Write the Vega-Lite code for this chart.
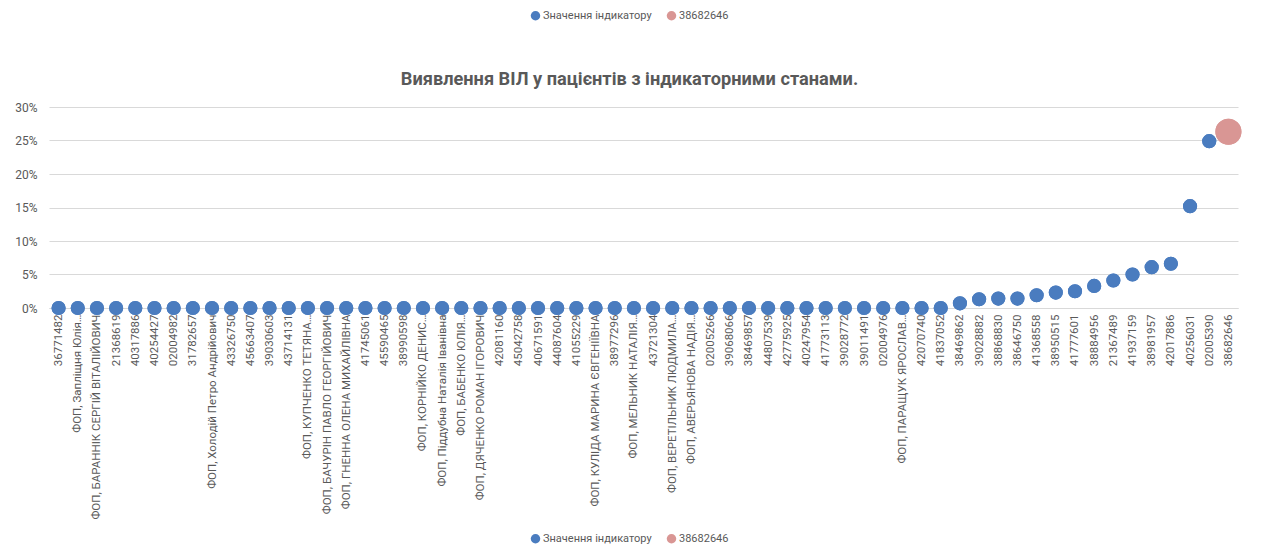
{
  "$schema": "https://vega.github.io/schema/vega-lite/v6.json",
  "width": 1189,
  "height": 201,
  "autosize": "none",
  "padding": {"left": 49, "top": 107, "right": 31, "bottom": 243},
  "background": "white",
  "title": {
    "text": "Виявлення ВІЛ у пацієнтів з індикаторними станами.",
    "font": "Roboto",
    "fontSize": 18.2,
    "fontWeight": "bold",
    "color": "#595959",
    "anchor": "middle",
    "dx": -14,
    "dy": 93,
    "offset": 14
  },
  "data": {
    "values": [
      {"name": "36771482", "value": 0, "series": "Значення індикатору"},
      {"name": "ФОП, Запліщня Юлія…", "value": 0, "series": "Значення індикатору"},
      {"name": "ФОП, БАРАННІК СЕРГІЙ ВІТАЛІЙОВИЧ", "value": 0, "series": "Значення індикатору"},
      {"name": "21368619", "value": 0, "series": "Значення індикатору"},
      {"name": "40317886", "value": 0, "series": "Значення індикатору"},
      {"name": "40254427", "value": 0, "series": "Значення індикатору"},
      {"name": "02004982", "value": 0, "series": "Значення індикатору"},
      {"name": "31782657", "value": 0, "series": "Значення індикатору"},
      {"name": "ФОП, Холодій Петро Андрійович", "value": 0, "series": "Значення індикатору"},
      {"name": "43326750", "value": 0, "series": "Значення індикатору"},
      {"name": "45663407", "value": 0, "series": "Значення індикатору"},
      {"name": "39030603", "value": 0, "series": "Значення індикатору"},
      {"name": "43714131", "value": 0, "series": "Значення індикатору"},
      {"name": "ФОП, КУПЧЕНКО ТЕТЯНА…", "value": 0, "series": "Значення індикатору"},
      {"name": "ФОП, БАЧУРІН ПАВЛО ГЕОРГІЙОВИЧ", "value": 0, "series": "Значення індикатору"},
      {"name": "ФОП, ГНЕННА ОЛЕНА МИХАЙЛІВНА", "value": 0, "series": "Значення індикатору"},
      {"name": "41745061", "value": 0, "series": "Значення індикатору"},
      {"name": "45590465", "value": 0, "series": "Значення індикатору"},
      {"name": "38990598", "value": 0, "series": "Значення індикатору"},
      {"name": "ФОП, КОРНІЙКО ДЕНИС…", "value": 0, "series": "Значення індикатору"},
      {"name": "ФОП, Піддубна Наталія Іванівна", "value": 0, "series": "Значення індикатору"},
      {"name": "ФОП, БАБЕНКО ЮЛІЯ…", "value": 0, "series": "Значення індикатору"},
      {"name": "ФОП, ДЯЧЕНКО РОМАН ІГОРОВИЧ", "value": 0, "series": "Значення індикатору"},
      {"name": "42081160", "value": 0, "series": "Значення індикатору"},
      {"name": "45042758", "value": 0, "series": "Значення індикатору"},
      {"name": "40671591", "value": 0, "series": "Значення індикатору"},
      {"name": "44087604", "value": 0, "series": "Значення індикатору"},
      {"name": "41055229", "value": 0, "series": "Значення індикатору"},
      {"name": "ФОП, КУЛІДА МАРИНА ЄВГЕНІЇВНА", "value": 0, "series": "Значення індикатору"},
      {"name": "38977296", "value": 0, "series": "Значення індикатору"},
      {"name": "ФОП, МЕЛЬНИК НАТАЛІЯ…", "value": 0, "series": "Значення індикатору"},
      {"name": "43721304", "value": 0, "series": "Значення індикатору"},
      {"name": "ФОП, ВЕРЕТІЛЬНИК ЛЮДМИЛА…", "value": 0, "series": "Значення індикатору"},
      {"name": "ФОП, АВЕРЬЯНОВА НАДІЯ…", "value": 0, "series": "Значення індикатору"},
      {"name": "02005266", "value": 0, "series": "Значення індикатору"},
      {"name": "39068066", "value": 0, "series": "Значення індикатору"},
      {"name": "38469857", "value": 0, "series": "Значення індикатору"},
      {"name": "44807539", "value": 0, "series": "Значення індикатору"},
      {"name": "42775925", "value": 0, "series": "Значення індикатору"},
      {"name": "40247954", "value": 0, "series": "Значення індикатору"},
      {"name": "41773113", "value": 0, "series": "Значення індикатору"},
      {"name": "39028772", "value": 0, "series": "Значення індикатору"},
      {"name": "39011491", "value": 0, "series": "Значення індикатору"},
      {"name": "02004976", "value": 0, "series": "Значення індикатору"},
      {"name": "ФОП, ПАРАЩУК ЯРОСЛАВ…", "value": 0, "series": "Значення індикатору"},
      {"name": "42070740", "value": 0, "series": "Значення індикатору"},
      {"name": "41837052", "value": 0, "series": "Значення індикатору"},
      {"name": "38469862", "value": 0.007, "series": "Значення індикатору"},
      {"name": "39028882", "value": 0.013, "series": "Значення індикатору"},
      {"name": "38868830", "value": 0.014, "series": "Значення індикатору"},
      {"name": "38646750", "value": 0.014, "series": "Значення індикатору"},
      {"name": "41368558", "value": 0.019, "series": "Значення індикатору"},
      {"name": "38950515", "value": 0.023, "series": "Значення індикатору"},
      {"name": "41777601", "value": 0.025, "series": "Значення індикатору"},
      {"name": "38884956", "value": 0.033, "series": "Значення індикатору"},
      {"name": "21367489", "value": 0.041, "series": "Значення індикатору"},
      {"name": "41937159", "value": 0.05, "series": "Значення індикатору"},
      {"name": "38981957", "value": 0.061, "series": "Значення індикатору"},
      {"name": "42017886", "value": 0.066, "series": "Значення індикатору"},
      {"name": "40256031", "value": 0.152, "series": "Значення індикатору"},
      {"name": "02005390", "value": 0.249, "series": "Значення індикатору"},
      {"name": "38682646", "value": 0.263, "series": "38682646"}
    ]
  },
  "encoding": {
    "x": {
      "field": "name",
      "type": "nominal",
      "sort": null,
      "scale": {"type": "point", "padding": 0.5},
      "axis": {
        "title": null,
        "labelAngle": -90,
        "labelFont": "Roboto",
        "labelFontSize": 11.5,
        "labelColor": "#595959",
        "labelPadding": 6,
        "labelLimit": 208,
        "labelOverlap": false,
        "ticks": false,
        "grid": false,
        "domain": true,
        "domainColor": "#d9d9d9",
        "domainWidth": 1
      }
    },
    "y": {
      "field": "value",
      "type": "quantitative",
      "scale": {"domain": [0, 0.3], "nice": false},
      "axis": {
        "title": null,
        "format": ".0%",
        "values": [0, 0.05, 0.1, 0.15, 0.2, 0.25, 0.3],
        "labelFont": "Roboto",
        "labelFontSize": 12,
        "labelColor": "#595959",
        "labelPadding": 12,
        "ticks": false,
        "domain": false,
        "grid": true,
        "gridColor": "#d9d9d9",
        "gridWidth": 1
      }
    },
    "size": {
      "field": "series",
      "type": "nominal",
      "scale": {"domain": ["Значення індикатору", "38682646"], "range": [200, 680]},
      "legend": null
    }
  },
  "layer": [
    {
      "mark": {"type": "point", "filled": true, "shape": "circle", "opacity": 1},
      "encoding": {
        "color": {
          "field": "series",
          "type": "nominal",
          "scale": {"domain": ["Значення індикатору", "38682646"], "range": ["#4a7cbf", "#d99694"]},
          "legend": {
            "title": null,
            "orient": "none",
            "direction": "horizontal",
            "legendX": 481,
            "legendY": 426,
            "symbolType": "circle",
            "symbolSize": 90,
            "symbolOpacity": 1,
            "labelFont": "Roboto",
            "labelFontSize": 11,
            "labelColor": "#595959",
            "labelOffset": 2,
            "columnPadding": 14
          }
        }
      }
    },
    {
      "mark": {"type": "point", "filled": true, "shape": "circle", "opacity": 1},
      "encoding": {
        "color": {
          "field": "series",
          "type": "nominal",
          "scale": {"domain": ["Значення індикатору", "38682646"], "range": ["#4a7cbf", "#d99694"]},
          "legend": {
            "title": null,
            "orient": "none",
            "direction": "horizontal",
            "legendX": 481,
            "legendY": -97,
            "symbolType": "circle",
            "symbolSize": 90,
            "symbolOpacity": 1,
            "labelFont": "Roboto",
            "labelFontSize": 11,
            "labelColor": "#595959",
            "labelOffset": 2,
            "columnPadding": 14
          }
        }
      }
    }
  ],
  "resolve": {"scale": {"color": "independent"}, "legend": {"color": "independent"}},
  "config": {"view": {"stroke": null}}
}
